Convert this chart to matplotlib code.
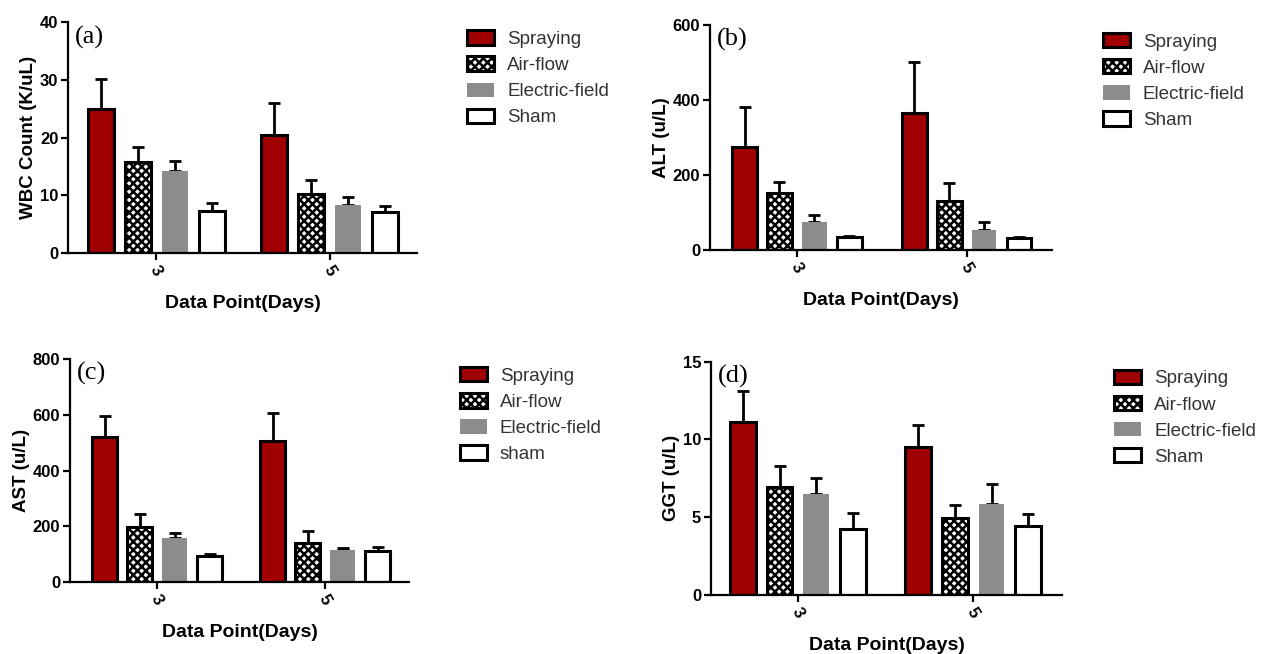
import matplotlib
matplotlib.use('Agg')
import matplotlib.pyplot as plt

plt.rcParams['font.family'] = ['Liberation Sans', 'DejaVu Sans']
plt.rcParams['hatch.linewidth'] = 1.8

# data
days = ['3', '5']
groups = ['Spraying', 'Air-flow', 'Electric-field', 'Sham']
groups_c = ['Spraying', 'Air-flow', 'Electric-field', 'sham']

wbc = [[25.0, 20.5], [15.8, 10.3], [14.2, 8.3], [7.3, 7.1]]
wbc_top = [[30.1, 26.0], [18.3, 12.7], [16.0, 9.7], [8.7, 8.2]]

alt = [[275, 364], [151, 131], [75, 53], [34, 31]]
alt_top = [[380, 502], [182, 178], [93, 73], [38, 35]]

ast = [[521, 505], [196, 141], [157, 115], [93, 112]]
ast_top = [[596, 605], [243, 184], [175, 121], [101, 127]]

ggt = [[11.1, 9.5], [6.95, 4.97], [6.5, 5.83], [4.22, 4.44]]
ggt_top = [[13.1, 10.95], [8.32, 5.8], [7.5, 7.12], [5.25, 5.21]]

colors = ['#a00000', 'white', '#8c8c8c', 'white']
hatches = [None, 'xxxx', None, None]
edges = ['black', 'black', 'none', 'black']

fig = plt.figure(figsize=(12.61, 6.54), dpi=100)

panels = [
    # (axes rect, values, tops, ylabel, ymax, ystep, tag, labels, group gap, xlim, legend pos)
    ([0.054, 0.613, 0.277, 0.353], wbc, wbc_top, 'WBC Count (K/uL)', 40, 10, '(a)', groups,
     4.68, (-2.38, 7.05), (0.363, 0.968)),
    ([0.563, 0.618, 0.271, 0.344], alt, alt_top, 'ALT (u/L)', 600, 200, '(b)', groups,
     4.86, (-2.49, 7.29), (0.867, 0.964)),
    ([0.0555, 0.110, 0.269, 0.341], ast, ast_top, 'AST (u/L)', 800, 200, '(c)', groups_c,
     4.80, (-2.49, 7.2), (0.357, 0.453)),
    ([0.5638, 0.090, 0.2784, 0.357], ggt, ggt_top, 'GGT (u/L)', 15, 5, '(d)', groups,
     4.77, (-2.37, 7.19), (0.876, 0.449)),
]

for rect, vals, tops, ylab, ymax, ystep, tag, labels, gap, xlim, legpos in panels:
    ax = fig.add_axes(rect)
    centers = [0, gap]
    handles = []
    for i in range(4):
        xs = [c + (i - 1.5) for c in centers]
        up = [t - v for t, v in zip(tops[i], vals[i])]
        ax.errorbar(xs, vals[i], yerr=[[0, 0], up], fmt='none', ecolor='black',
                    elinewidth=2, capsize=4.5, capthick=2, zorder=1)
        b = ax.bar(xs, vals[i], width=0.7, color=colors[i], edgecolor=edges[i],
                   hatch=hatches[i], linewidth=2.2, zorder=2, label=labels[i])
        handles.append(b)
    ax.set_xlim(*xlim)
    ax.set_ylim(0, ymax)
    ax.set_yticks(range(0, ymax + 1, ystep))
    ax.set_xticks(centers)
    ax.set_xticklabels(days, rotation=-60, fontsize=12, fontweight='bold')
    for lab in ax.get_yticklabels():
        lab.set_fontweight('bold')
        lab.set_fontsize(12)
    ax.spines['top'].set_visible(False)
    ax.spines['right'].set_visible(False)
    ax.spines['left'].set_linewidth(1.6)
    ax.spines['bottom'].set_linewidth(1.6)
    ax.tick_params(axis='both', width=1.6, length=5, color='black', pad=2)
    ax.set_ylabel(ylab, fontsize=13.5, fontweight='bold', labelpad=2)
    ax.set_xlabel('Data Point(Days)', fontsize=14, fontweight='bold', labelpad=12)
    ax.text(0.02, 0.985, tag, transform=ax.transAxes, ha='left', va='top',
            fontsize=19, family='Liberation Serif')
    fig.legend(handles=handles, loc='upper left', bbox_to_anchor=legpos,
               frameon=False, fontsize=13.5, handlelength=1.45, handleheight=0.8,
               labelspacing=0.45, borderpad=0, handletextpad=0.7, labelcolor='#333333')

fig.savefig('out.png', dpi=100)
